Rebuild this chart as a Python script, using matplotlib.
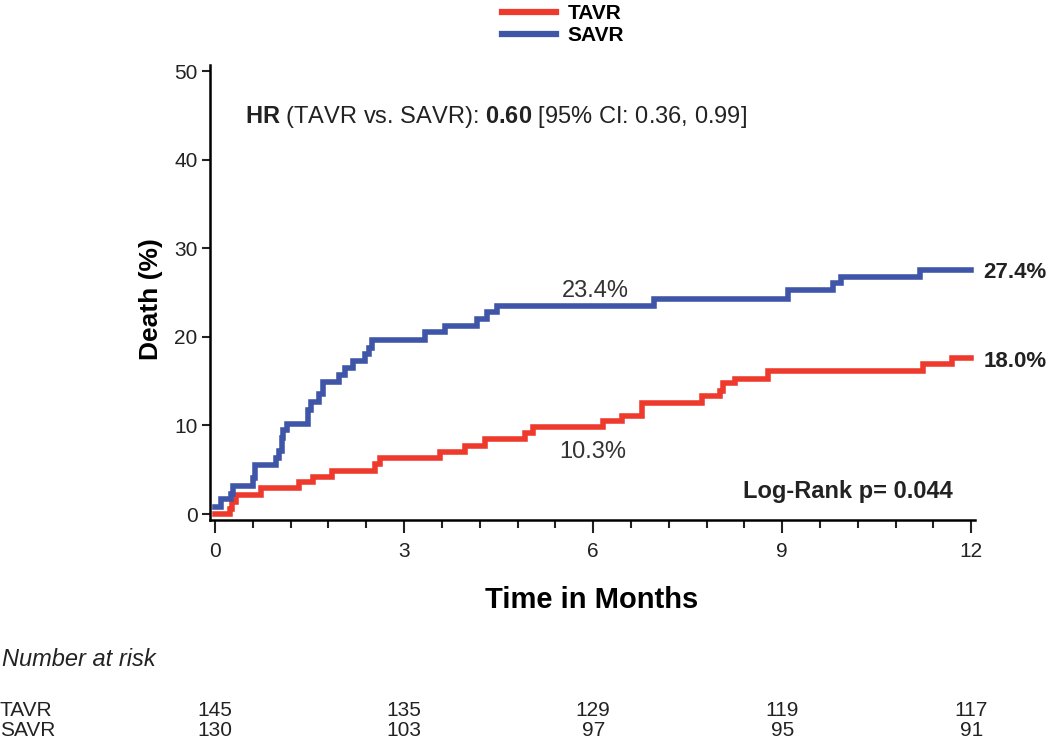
"""
Kaplan-Meier style death curves, TAVR vs SAVR, with number-at-risk table.
"""
import matplotlib
matplotlib.use("Agg")
import matplotlib.pyplot as plt
from matplotlib.lines import Line2D
from matplotlib.ticker import MultipleLocator
from matplotlib.transforms import blended_transform_factory

plt.rcParams.update({
    "font.family": ["Liberation Sans", "DejaVu Sans"],
    "mathtext.fontset": "custom",
    "mathtext.rm": "Liberation Sans",
    "mathtext.bf": "Liberation Sans:bold",
})

RED  = "#ee3a2c"
BLUE = "#3f55a8"
INK  = "#222222"

# step curves (months, cumulative death %)
tavr_t = [0, 0.23, 0.27, 0.33, 0.73, 1.34, 1.55, 1.86, 2.54, 2.62, 3.57, 3.97,
          4.29, 4.92, 5.04, 6.15, 6.46, 6.77, 7.73, 8.02, 8.06, 8.25, 8.78,
          11.24, 11.69, 12.0]
tavr_v = [0, 0.6, 1.4, 2.2, 2.9, 3.6, 4.2, 4.9, 5.7, 6.3, 7.0, 7.7,
          8.5, 9.1, 9.8, 10.5, 11.1, 12.5, 13.3, 13.9, 14.8, 15.3, 16.1,
          16.9, 17.6, 17.6]

savr_t = [0, 0.09, 0.25, 0.29, 0.60, 0.64, 0.96, 1.02, 1.06, 1.08, 1.14, 1.47,
          1.52, 1.65, 1.71, 1.97, 2.07, 2.19, 2.38, 2.45, 2.49, 3.33, 3.65,
          4.15, 4.31, 4.47, 6.97, 9.10, 9.80, 9.93, 11.18, 12.0]
savr_v = [0.8, 1.7, 2.3, 3.2, 4.1, 5.5, 6.3, 7.1, 8.6, 9.5, 10.2, 11.8,
          12.6, 13.5, 14.9, 15.7, 16.5, 17.3, 18.1, 18.8, 19.6, 20.5, 21.2,
          22.0, 22.8, 23.5, 24.3, 25.3, 26.1, 26.8, 27.6, 27.6]

# number at risk
risk_months = [0, 3, 6, 9, 12]
tavr_risk   = [145, 135, 129, 119, 117]
savr_risk   = [130, 103, 97, 95, 91]

fig = plt.figure(figsize=(10.5, 7.41), dpi=100)
ax = fig.add_axes([0.2, 0.2982, 0.7286, 0.614])

ax.step(tavr_t, tavr_v, where="post", color=RED, lw=4.0, solid_joinstyle="miter")
ax.step(savr_t, savr_v, where="post", color=BLUE, lw=4.0, solid_joinstyle="miter")

ax.set_xlim(-0.08, 12.06)
ax.set_ylim(-0.68, 50.7)
ax.xaxis.set_major_locator(MultipleLocator(3))
ax.xaxis.set_minor_locator(MultipleLocator(0.6))
ax.yaxis.set_major_locator(MultipleLocator(10))
for s in ("top", "right"):
    ax.spines[s].set_visible(False)
for s in ("left", "bottom"):
    ax.spines[s].set_linewidth(1.8)
ax.tick_params(axis="both", which="major", labelsize=15, width=1.5, color=INK,
               labelcolor=INK)
ax.tick_params(axis="x", which="major", length=9, pad=7)
ax.tick_params(axis="x", which="minor", length=6, width=1.5, color=INK)
ax.tick_params(axis="y", which="major", length=6, pad=3)

ax.set_ylabel("Death (%)", fontsize=19, fontweight="bold")
ax.yaxis.set_label_coords(-0.062, 0.485)
ax.set_xlabel("Time in Months", fontsize=21, fontweight="bold")
ax.xaxis.set_label_coords(0.4993, -0.146)

ax.text(0.48, 44.8, r"$\mathbf{HR}$ (TAVR vs. SAVR): $\mathbf{0.60}$ [95% CI: 0.36, 0.99]",
        fontsize=17, va="center", ha="left", color=INK)
ax.text(6.03, 25.2, "23.4%", fontsize=17, ha="center", va="center", color="#333333")
ax.text(6.0, 7.0, "10.3%", fontsize=17, ha="center", va="center", color="#333333")
ax.text(12.19, 27.3, "27.4%", fontsize=16, fontweight="bold", ha="left", va="center",
        clip_on=False, color=INK)
ax.text(12.19, 17.2, "18.0%", fontsize=16, fontweight="bold", ha="left", va="center",
        clip_on=False, color=INK)
ax.text(11.71, 2.5, "Log-Rank p= 0.044", fontsize=17, fontweight="bold",
        ha="right", va="center", color=INK)

handles = [Line2D([], [], color=RED, lw=4.5), Line2D([], [], color=BLUE, lw=4.5)]
fig.legend(handles, ["TAVR", "SAVR"], loc="upper center", bbox_to_anchor=(0.536, 1.02),
           frameon=False, handlelength=2.6, handletextpad=0.55, labelspacing=0.15,
           prop={"weight": "bold", "size": 15})

# number at risk table
trans = blended_transform_factory(ax.transData, fig.transFigure)
fig.text(0.002, 1 - 660 / 741, "Number at risk", fontsize=17, style="italic",
         va="center", ha="left", color=INK)
fig.text(0.0, 1 - 711 / 741, "TAVR", fontsize=15, va="center", ha="left", color=INK)
fig.text(0.0, 1 - 731 / 741, "SAVR", fontsize=15, va="center", ha="left", color=INK)
for m, a, b in zip(risk_months, tavr_risk, savr_risk):
    ax.text(m, 1 - 711 / 741, str(a), transform=trans, fontsize=15,
            ha="center", va="center", color=INK)
    ax.text(m, 1 - 731 / 741, str(b), transform=trans, fontsize=15,
            ha="center", va="center", color=INK)

fig.savefig("out.png", dpi=100)
